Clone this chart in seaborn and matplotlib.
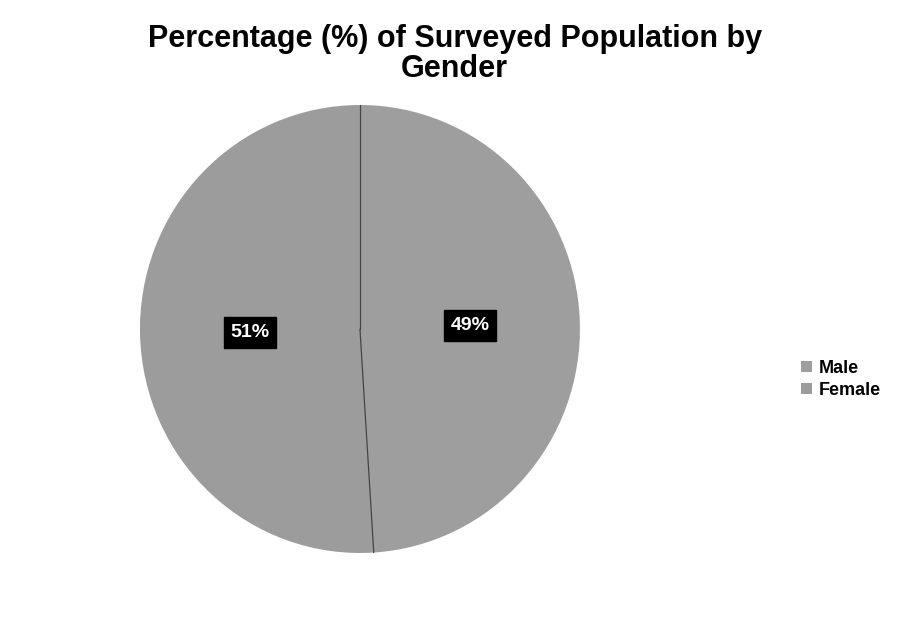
import matplotlib
matplotlib.use("Agg")
import matplotlib.pyplot as plt
import seaborn as sns
import numpy as np

# --- DATA ---
CATEGORIES = ["Male", "Female"]
SHARES = [49, 51]
TITLE = "Percentage (%) of Surveyed Population by\nGender"

sns.set_theme(style="white")
plt.rcParams['font.family'] = ['Liberation Sans Narrow', 'Liberation Sans', 'DejaVu Sans']

colors = ["#9e9e9e", "#9c9c9c"]

fig = plt.figure(figsize=(9.13, 6.43), dpi=100)
fig.patch.set_facecolor("white")
# scanned original is slightly taller than wide
ax = fig.add_axes([0.1533, 0.14, 0.4819, 0.6967])

wedges, texts, autotexts = ax.pie(
    SHARES,
    colors=colors,
    startangle=90,
    counterclock=False,
    autopct="%1.0f%%",
    pctdistance=0.5,
    wedgeprops=dict(linewidth=0),
    textprops=dict(color="white", fontsize=14, fontweight="bold"),
)
for t in autotexts:
    t.set_bbox(dict(boxstyle="square,pad=0.35", facecolor="black", edgecolor="black"))

# thin divider lines between the slices (from wedge geometry)
for w in wedges:
    th = np.deg2rad(w.theta1)
    ax.plot([0, np.cos(th)], [0, np.sin(th)], color="#444444", lw=0.9)

ax.set_aspect("auto")
ax.set_xlim(-1.0, 1.0)
ax.set_ylim(-1.0, 1.0)

fig.text(0.498, 0.916, TITLE, ha="center", va="center", fontsize=22,
         fontweight="bold", color="black",
         family=['Liberation Sans', 'DejaVu Sans'], linespacing=1.0)

leg = fig.legend(wedges, CATEGORIES, loc="center left", bbox_to_anchor=(0.86, 0.41),
                 frameon=False, handlelength=0.6, handleheight=0.6,
                 handletextpad=0.35, labelspacing=0.3,
                 prop=dict(weight="bold", size=13))
for h in leg.legend_handles:
    h.set_edgecolor("none")
for t in leg.get_texts():
    t.set_color("black")

plt.savefig("out.png", dpi=100, facecolor="white")
